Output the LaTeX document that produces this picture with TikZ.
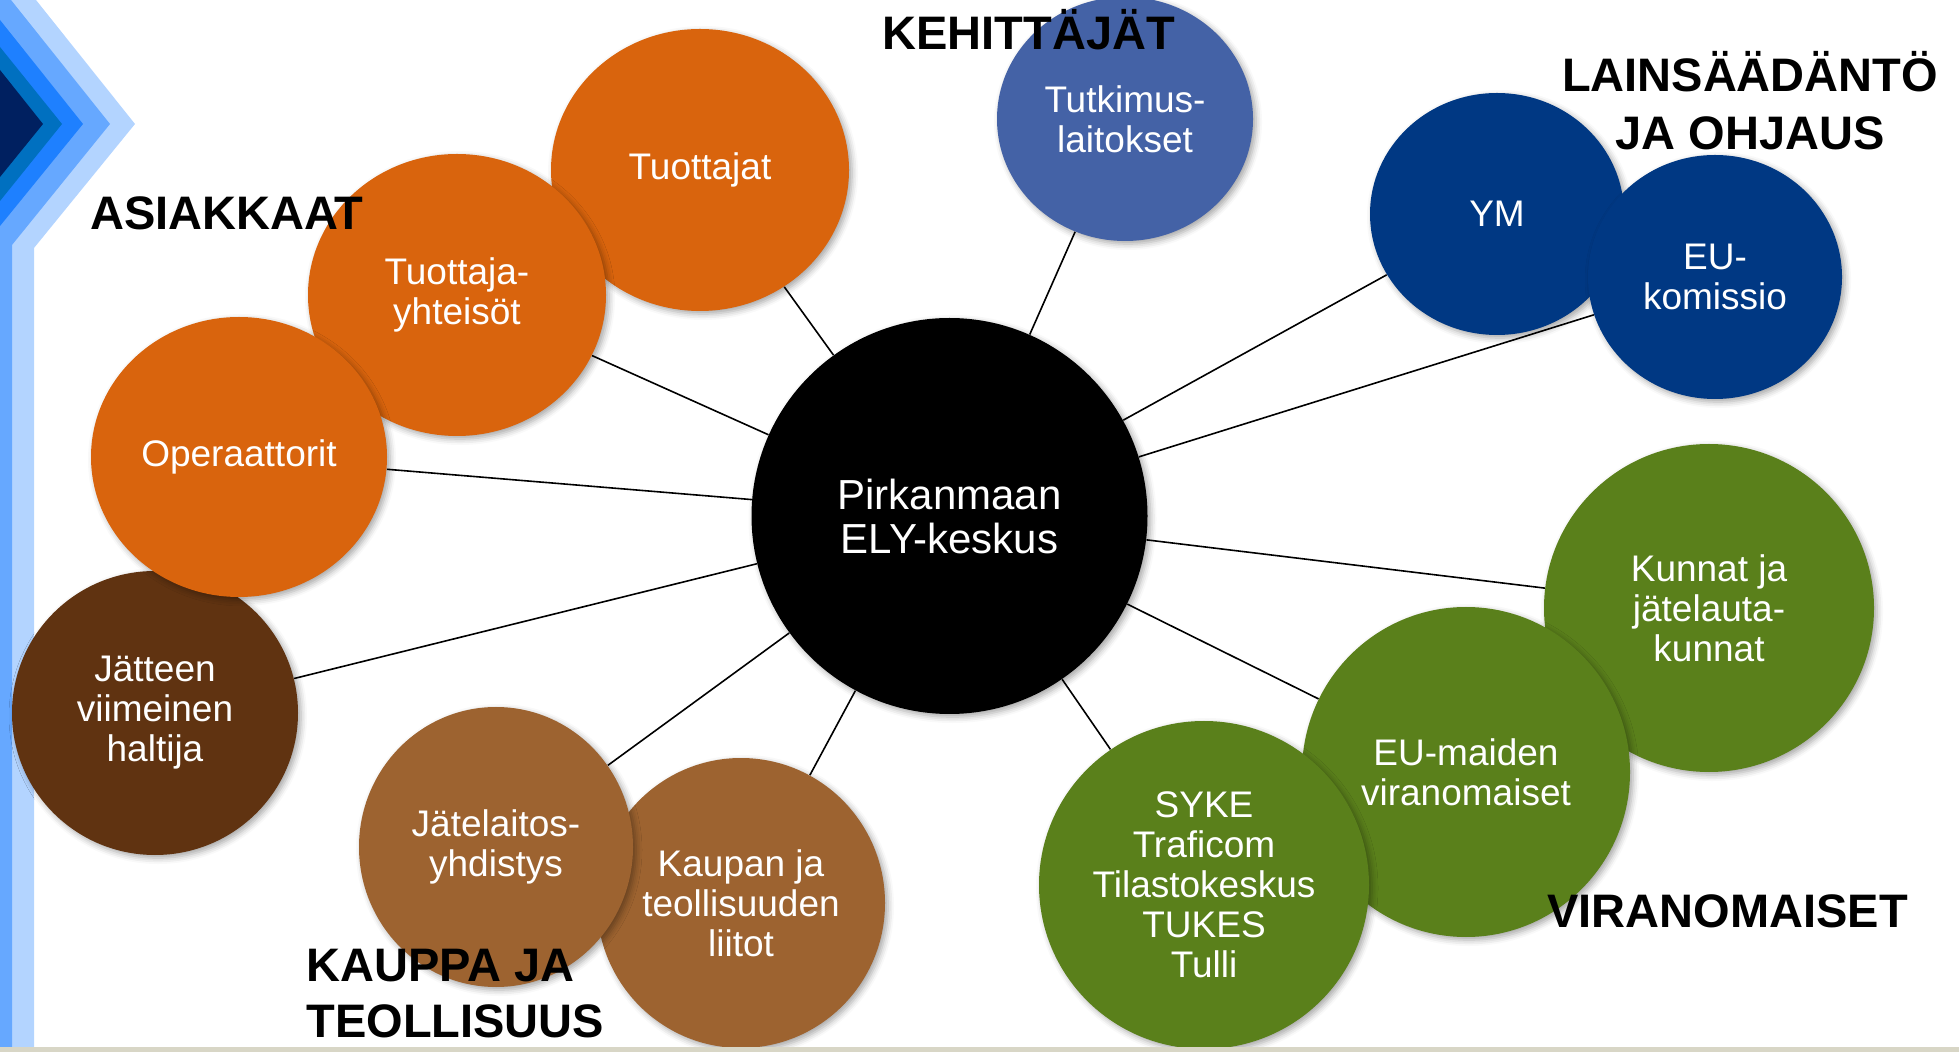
\documentclass[tikz,border=0pt]{standalone}
\usepackage{fontspec}
\setmainfont{Liberation Sans}
\usetikzlibrary{shapes.geometric,shadows.blur,backgrounds}

\definecolor{orangeC}{RGB}{217,100,13}
\definecolor{darkbrownC}{RGB}{96,51,17}
\definecolor{brownC}{RGB}{157,99,48}
\definecolor{greenC}{RGB}{90,128,27}
\definecolor{steelC}{RGB}{68,98,166}
\definecolor{navyC}{RGB}{0,56,131}
\definecolor{barlight}{RGB}{179,212,255}
\definecolor{barmid}{RGB}{102,168,255}
\definecolor{barblue}{RGB}{30,128,255}
\definecolor{barsteel}{RGB}{0,112,192}
\definecolor{barnavy}{RGB}{0,32,96}
\definecolor{stripC}{RGB}{216,214,198}

\tikzset{
  bubble/.style 2 args={ellipse, inner sep=0pt, minimum width=#1, minimum height=#2,
    text=white, align=center, font=\fontsize{18.5}{20}\selectfont,
    blur shadow={shadow xshift=1.5pt, shadow yshift=-1.5pt, shadow blur radius=3pt, shadow opacity=35}},
  group/.style={inner sep=0pt, font=\bfseries\fontsize{23.5}{28.5}\selectfont},
  link/.style={line width=0.8pt},
}

\begin{document}
\begin{tikzpicture}[x=0.5pt,y=0.5pt,yscale=-1,xscale=1]
\useasboundingbox (0,0) rectangle (1959,1052);

% bubbles, back to front
\node[bubble={128pt}{122pt}, fill=steelC] (tutkimus) at (1125,119) {Tutkimus-\\laitokset};
\node[bubble={127pt}{121pt}, fill=navyC] (ym) at (1497,214) {YM};
\node[bubble={127pt}{122pt}, fill=navyC] (eukomissio) at (1715,277) {EU-\\komissio};
\node[bubble={149pt}{141pt}, fill=orangeC] (tuottajat) at (700,170) {Tuottajat};
\node[bubble={149pt}{141pt}, fill=orangeC] (yhteisot) at (457,295) {Tuottaja-\\yhteisöt};
\node[bubble={143pt}{142pt}, fill=darkbrownC] (haltija) at (155,713) {Jätteen\\viimeinen\\haltija};
\node[bubble={148pt}{140pt}, fill=orangeC] (operaattorit) at (239,457) {Operaattorit};
\node[bubble={144pt}{145pt}, fill=brownC] (liitot) at (741,903) {Kaupan ja\\teollisuuden\\liitot};
\node[bubble={137pt}{140pt}, fill=brownC] (jatelaitos) at (496,847) {Jätelaitos-\\yhdistys};
\node[bubble={165pt}{164pt}, fill=greenC] (kunnat) at (1709,608) {Kunnat ja\\jätelauta-\\kunnat};
\node[bubble={164pt}{165pt}, fill=greenC] (eumaiden) at (1466,772) {EU-maiden\\viranomaiset};
\node[bubble={165pt}{164pt}, fill=greenC] (syke) at (1204,885) {SYKE\\Traficom\\Tilastokeskus\\TUKES\\Tulli};
\node[bubble={198pt}{198pt}, fill=black, font=\fontsize{21}{22}\selectfont] (ely) at (949.5,516) {Pirkanmaan\\ELY-keskus};

% group titles
\node[group, anchor=base west] (asiakkaat) at (90,230) {ASIAKKAAT};
\node[group, anchor=base west] (kehittajat) at (882,50) {KEHITTÄJÄT};
\node[group, anchor=base] (lainsaadanto) at (1750,92) {LAINSÄÄDÄNTÖ};
\node[group, anchor=base] (ohjaus) at (1750,150) {JA OHJAUS};
\node[group, anchor=base west] (viranomaiset) at (1547,927) {VIRANOMAISET};
\node[group, anchor=base west] (kauppa) at (306,981) {KAUPPA JA};
\node[group, anchor=base west] (teollisuus) at (306,1037) {TEOLLISUUS};

\begin{scope}[on background layer]
% side bars and chevron
\fill[barlight] (36,0) -- (135,124) -- (34,248) -- (34,1052) -- (0,1052) -- (0,0) -- cycle;
\fill[barmid] (11,0) -- (110,124) -- (12,245) -- (12,1052) -- (0,1052) -- (0,0) -- cycle;
\fill[barblue] (0,20) -- (83,124) -- (0,226) -- cycle;
\fill[barsteel] (0,47) -- (62,124) -- (0,201) -- cycle;
\fill[barnavy] (0,70) -- (43,124) -- (0,177) -- cycle;
% links
\foreach \t in {tutkimus,ym,eukomissio,tuottajat,yhteisot,operaattorit,haltija,jatelaitos,liitot,syke,eumaiden,kunnat}
  \draw[link] (ely) -- (\t);
\end{scope}

% bottom strip
\fill[stripC] (0,1047) rectangle (1959,1052);

\end{tikzpicture}
\end{document}
